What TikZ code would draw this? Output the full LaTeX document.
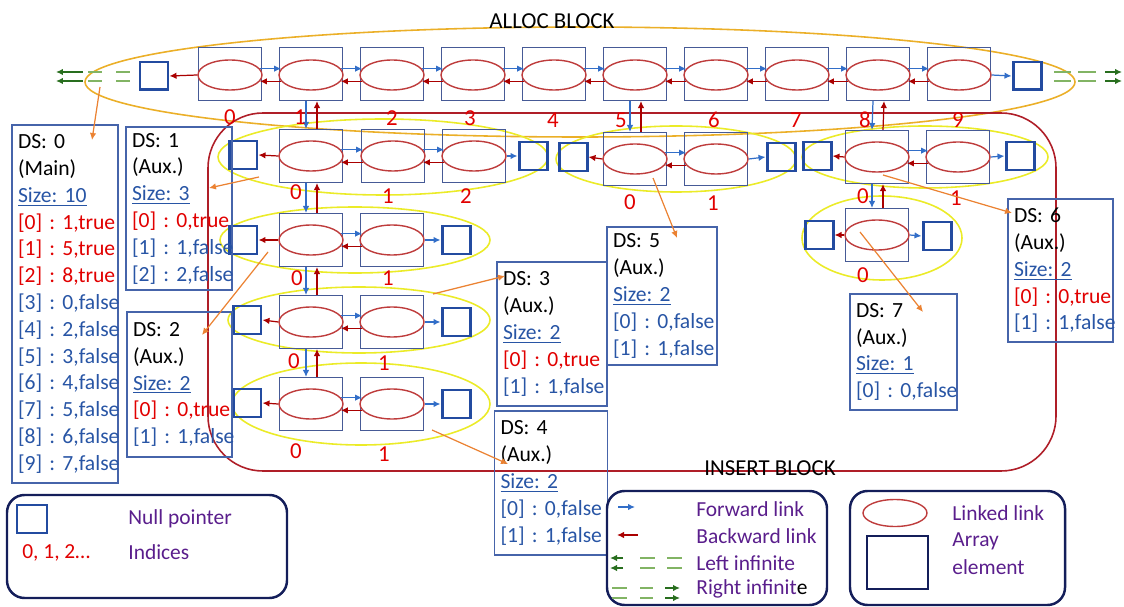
\documentclass[tikz,border=0pt]{standalone}
\usepackage{fontspec}
\setmainfont{Carlito}
\usetikzlibrary{arrows.meta,shapes.geometric}
\definecolor{arrblue}{RGB}{70,90,150}
\definecolor{ellred}{RGB}{190,60,60}
\definecolor{nulblue}{RGB}{35,75,160}
\definecolor{fwdblue}{RGB}{50,110,200}
\definecolor{bwdred}{RGB}{170,0,0}
\definecolor{grpyel}{RGB}{235,235,40}
\definecolor{allocor}{RGB}{235,175,40}
\definecolor{insred}{RGB}{175,30,40}
\definecolor{noteor}{RGB}{235,130,50}
\definecolor{dsblue}{RGB}{70,100,170}
\definecolor{txtred}{RGB}{225,0,0}
\definecolor{txtblue}{RGB}{40,85,165}
\definecolor{infgreen}{RGB}{40,110,30}
\definecolor{infdsh}{RGB}{130,180,100}
\definecolor{legnavy}{RGB}{20,30,90}
\definecolor{legpurp}{RGB}{90,30,140}
\newcommand{\tru}[2]{\mbox{\textcolor{txtred}{[#1] : #2,true}}}
\newcommand{\fal}[2]{\mbox{\textcolor{txtblue}{[#1] : #2,false}}}
\newcommand{\sz}[1]{\textcolor{txtblue}{\underline{Size: #1}}}
\frenchspacing

\begin{document}
\begin{tikzpicture}[every node/.style={font=\fontsize{13}{15.25}\selectfont}, >={Latex[length=1.4mm,width=1.3mm]}, x=0.02cm, y=-0.02cm,
	elem/.style={draw=arrblue, line width=0.6pt, minimum width=1.26cm, minimum height=1.06cm, inner sep=0pt},
	lnk/.style={ellipse, draw=ellred, line width=0.8pt, minimum width=1.28cm, minimum height=0.6cm, inner sep=0pt},
	nul/.style={draw=nulblue, line width=1.7pt, minimum width=0.56cm, minimum height=0.56cm, inner sep=0pt},
	fwd/.style={->, draw=fwdblue, line width=0.7pt},
	bwd/.style={->, draw=bwdred, line width=0.7pt},
	idx/.style={text=txtred},
	grp/.style={draw=grpyel, line width=0.9pt},
	note/.style={->, draw=noteor, line width=0.7pt},
	dsbox/.style={draw=dsblue, line width=0.7pt, align=left, inner xsep=0.12cm, inner ysep=0.1cm, font=\fontsize{12.3}{15.25}\selectfont},
	legbox/.style={draw=legnavy, line width=1.4pt, rounded corners=0.35cm},
	legtxt/.style={text=legpurp, anchor=west, inner sep=0pt, font=\fontsize{12.2}{14}\selectfont},
	infarr/.style={->, draw=infgreen, line width=0.8pt},
	infdash/.style={draw=infdsh, line width=0.8pt}]
	\useasboundingbox (0,0) rectangle (1124,607);

	\draw[draw=allocor, line width=0.9pt] (580,82) ellipse [x radius=495, y radius=55];
	\node (alloc) at (552,21) {ALLOC BLOCK};
	\draw[draw=insred, line width=0.9pt, rounded corners=1.1cm] (208,113) rectangle (1056,471);
	\node (insert) at (770,468) {INSERT BLOCK};

	\foreach \i in {0,...,9} {
		\node[elem] (t\i) at ({230+81*\i},74) {};
		\node[lnk] (et\i) at ({230+81*\i},75) {};
	}
	\node[nul] (tL) at (154,76) {};
	\node[nul] (tR) at (1027,76) {};
	\foreach \i [count=\j] in {0,...,8} {
		\draw[fwd] (et\i.12) -- (et\j.168);
		\draw[bwd] (et\j.192) -- (et\i.-12);
	}
	\draw[bwd] (et0.west) -- (tL.east);
	\draw[fwd] (et9.east) -- (tR.west);
	\foreach \y in {72,81} {
		\draw[infarr] (83,\y) -- (56,\y);
		\draw[infdash] (88,\y) -- (102,\y) (116,\y) -- (130,\y);
		\draw[infdash] (1054,\y) -- (1071,\y) (1078,\y) -- (1096,\y);
		\draw[infarr] (1105,\y) -- (1122,\y);
	}

	\draw[grp] (383,157) ellipse [x radius=165, y radius=38];
	\draw[grp] (676,159) ellipse [x radius=120, y radius=33];
	\draw[grp] (925,157) ellipse [x radius=123, y radius=31];
	\draw[grp] (882,238) ellipse [x radius=80, y radius=42];
	\draw[grp] (355,240) ellipse [x radius=135, y radius=33];
	\draw[grp] (359,320) ellipse [x radius=131, y radius=33];
	\draw[grp] (361,404) ellipse [x radius=129, y radius=41];

	\foreach \n/\x/\y in {p0/311/156, p1/393/156, p2/474/156, q0/635/159, q1/716/159, r0/877/157, r1/958/157, s0/877/235, u0/311/240, u1/392/240, v0/311/322, v1/392/322, w0/311/404, w1/392/404} {
		\node[elem] (\n) at (\x,\y) {};
		\node[lnk] (e\n) at (\x,\y) {};
	}
	\foreach \n/\x/\y in {pL/243/155, pR/533/156, qL/573/157, qR/781/157, rL/817/156, rR/1020/156, sL/819/235, sR/937/236, uL/243/240, uR/456/240, vL/247/320, vR/456/322, wL/247/403, wR/456/404}
		\node[nul] (\n) at (\x,\y) {};
	\foreach \a/\b in {p0/p1, p1/p2, q0/q1, r0/r1, u0/u1, v0/v1, w0/w1} {
		\draw[fwd] (e\a.12) -- (e\b.168);
		\draw[bwd] (e\b.192) -- (e\a.-12);
	}
	\foreach \a/\b in {p0/pL, q0/qL, r0/rL, s0/sL, u0/uL, v0/vL, w0/wL}
		\draw[bwd] (e\a.west) -- (\b.east);
	\foreach \a/\b in {p2/pR, q1/qR, r1/rR, s0/sR, u1/uR, v1/vR, w1/wR}
		\draw[fwd] (e\a.east) -- (\b.west);
	\foreach \a/\b in {t1/p0, t5/q0, t8/r0, p0/u0, u0/v0, v0/w0, r0/s0} {
		\draw[fwd] ([xshift=-0.1cm]\a.south) -- ([xshift=-0.1cm]\b.north);
		\draw[bwd] ([xshift=0.12cm]\b.north) -- ([xshift=0.12cm]\a.south);
	}

	\foreach \n/\x/\y/\t in {t0/230/117/0, t1/300/117/1, t2/392/118/2, t3/470/118/3, t4/553/120/4, t5/621/120/5, t6/714/120/6, t7/796/120/7, t8/865/120/8, t9/958/120/9,
		p0/296/192/0, p1/388/196/1, p2/466/196/2, q0/630/202/0, q1/713/203/1, r0/863/196/0, r1/956/198/1, s0/863/275/0,
		u0/297/278/0, u1/388/278/1, v0/294/361/0, v1/384/363/1, w0/296/451/0, w1/384/454/1}
		\node[idx] (i\n) at (\x,\y) {\t};

	\node[dsbox, text width=1.88cm, minimum height=7.16cm] (ds0) at (65,304) {DS: 0\\(Main)\\\sz{10}\\\tru{0}{1}\\\tru{1}{5}\\\tru{2}{8}\\\fal{3}{0}\\\fal{4}{2}\\\fal{5}{3}\\\fal{6}{4}\\\fal{7}{5}\\\fal{8}{6}\\\fal{9}{7}};
	\node[dsbox, text width=1.88cm, minimum height=3.26cm] (ds1) at (179,208.5) {DS: 1\\(Aux.)\\\sz{3}\\\tru{0}{0}\\\fal{1}{1}\\\fal{2}{2}};
	\node[dsbox, text width=1.86cm, minimum height=2.9cm] (ds2) at (179.5,384.5) {DS: 2\\(Aux.)\\\sz{2}\\\tru{0}{0}\\\fal{1}{1}};
	\node[dsbox, text width=1.96cm, minimum height=2.88cm] (ds3) at (552,334) {DS: 3\\(Aux.)\\\sz{2}\\\tru{0}{0}\\\fal{1}{1}};
	\node[dsbox, text width=2.02cm, minimum height=2.88cm] (ds4) at (551,483) {DS: 4\\(Aux.)\\\sz{2}\\\fal{0}{0}\\\fal{1}{1}};
	\node[dsbox, text width=1.96cm, minimum height=2.76cm] (ds5) at (662,296) {DS: 5\\(Aux.)\\\sz{2}\\\fal{0}{0}\\\fal{1}{1}};
	\node[dsbox, text width=1.86cm, minimum height=2.86cm] (ds6) at (1060.5,270.5) {DS: 6\\(Aux.)\\\sz{2}\\\tru{0}{0}\\\fal{1}{1}};
	\node[dsbox, text width=1.9cm, minimum height=2.32cm] (ds7) at (903.5,352) {DS: 7\\(Aux.)\\\sz{1}\\\fal{0}{0}};

	\foreach \i/\x/\y/\u/\v in {0/100/87/92/140, 1/259/177/209/188, 2/268/252/202/335, 3/433/294/505/276, 4/432/430/508/464, 5/653/178/677/238, 6/883/175/1012/213, 7/860/232/923/312} {
		\coordinate (src\i) at (\x,\y);
		\coordinate (dst\i) at (\u,\v);
		\draw[note] (src\i) -- (dst\i);
	}

	\draw[legbox] (7,495) rectangle (287,598);
	\node[nul, minimum width=0.6cm] (lnul) at (32,519) {};
	\node[legtxt] (lnultxt) at (128,519) {Null pointer};
	\node[anchor=west, inner sep=0pt, text=txtred, font=\fontsize{12.2}{14}\selectfont] (lidx) at (22,553) {0, 1, 2…};
	\node[legtxt] (lidxtxt) at (128,552) {Indices};

	\draw[legbox] (607,491) rectangle (827,605);
	\draw[fwd] (618,507) -- (635,507);
	\draw[bwd] (638,535) -- (617,535);
	\foreach \y in {558,568} {
		\draw[infarr] (623,\y) -- (610,\y);
		\draw[infdash] (640,\y) -- (655,\y) (667,\y) -- (682,\y);
	}
	\foreach \y in {588,598} {
		\draw[infdash] (612,\y) -- (627,\y) (640,\y) -- (653,\y);
		\draw[infarr] (665,\y) -- (680,\y);
	}
	\node[legtxt] (lfwd) at (696,509) {Forward link};
	\node[legtxt] (lbwd) at (696,536) {Backward link};
	\node[legtxt] (llinf) at (696,563) {Left infinite};
	\node[legtxt] (lrinf) at (696,589) {Right infinit\textcolor{black}{e}};

	\draw[legbox] (850,491) rectangle (1065,605);
	\node[lnk, minimum height=0.54cm] (llnk) at (895,513) {};
	\node[elem, draw=legnavy, minimum width=1.22cm] (lelem) at (897.5,562.5) {};
	\node[legtxt] (llnktxt) at (952,513) {Linked link};
	\node[legtxt] (larr) at (952,541) {Array};
	\node[legtxt] (lelm) at (952,567) {element};
\end{tikzpicture}
\end{document}
